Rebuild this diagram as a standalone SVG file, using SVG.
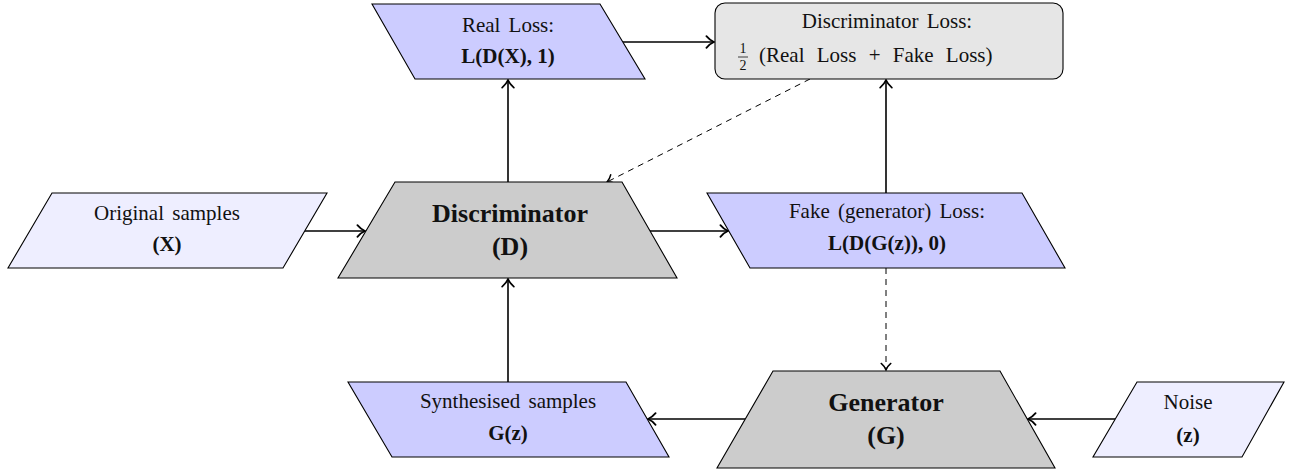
<svg xmlns="http://www.w3.org/2000/svg" width="1300" height="473" viewBox="0 0 1300 473">
<defs>
<style>
.node{stroke:#000;stroke-width:1.1}
.blue{fill:#ccccff}
.light{fill:#eeeeff}
.gray{fill:#cccccc}
.box{fill:#e6e6e6}
text{font-family:"Liberation Serif","Times New Roman",serif;fill:#111;text-anchor:middle}
.t{font-size:21px;word-spacing:3px}
.b{font-size:21px;font-weight:bold}
.big{font-size:26px;font-weight:bold}
.fr{font-size:14px}
.edge{fill:none;stroke:#000;stroke-width:1.6;marker-end:url(#arr)}
.dash{fill:none;stroke:#000;stroke-width:1;stroke-dasharray:6 5;marker-end:url(#arrs)}
</style>
<marker id="arr" markerUnits="userSpaceOnUse" markerWidth="14" markerHeight="14" viewBox="-8 -6 10 12" refX="0" refY="0" orient="auto">
<path d="M-6.5,-5 C-4,-2 -1.5,-0.6 0,0 C-1.5,0.6 -4,2 -6.5,5" fill="none" stroke="#000" stroke-width="1.5" stroke-linecap="round"/>
</marker>
<marker id="arrs" markerUnits="userSpaceOnUse" markerWidth="12" markerHeight="12" viewBox="-7 -5 8 10" refX="0" refY="0" orient="auto">
<path d="M-5.5,-4 C-3.5,-1.6 -1.3,-0.5 0,0 C-1.3,0.5 -3.5,1.6 -5.5,4" fill="none" stroke="#000" stroke-width="1.2" stroke-linecap="round"/>
</marker>
</defs>

<g id="connectors">
<line class="edge" x1="305" y1="231" x2="365" y2="231"/>
<line class="edge" x1="508" y1="182" x2="508" y2="80"/>
<line class="edge" x1="623" y1="42" x2="714" y2="42"/>
<line class="dash" x1="810" y1="79" x2="607" y2="182"/>
<line class="edge" x1="650" y1="231" x2="728" y2="231"/>
<line class="edge" x1="886" y1="193" x2="886" y2="80"/>
<line class="dash" x1="886" y1="268" x2="886" y2="370"/>
<line class="edge" x1="508" y1="382" x2="508" y2="279"/>
<line class="edge" x1="745" y1="419" x2="648" y2="419"/>
<line class="edge" x1="1115" y1="419" x2="1028" y2="419"/>
</g>

<g id="real-loss">
<polygon class="node blue" points="372,4 600,4 645,79 415,79"/>
<text class="t" x="508" y="32">Real Loss:</text>
<text class="b" x="508" y="63">L(D(X), 1)</text>
</g>

<g id="discriminator-loss">
<rect class="node box" x="715" y="3" width="348" height="76" rx="10" ry="10"/>
<text class="t" x="887" y="28">Discriminator Loss:</text>
<text class="fr" x="743" y="53">1</text>
<line x1="738" y1="57" x2="748" y2="57" stroke="#111" stroke-width="0.8"/>
<text class="fr" x="743" y="70">2</text>
<text class="t" x="759" y="62" style="text-anchor:start;word-spacing:7px">(Real Loss + Fake Loss)</text>
</g>

<g id="original-samples">
<polygon class="node light" points="52,193 327,193 283,268 8,268"/>
<text class="t" x="167" y="220">Original samples</text>
<text class="b" x="167" y="251">(X)</text>
</g>

<g id="discriminator">
<polygon class="node gray" points="395,182 622,182 677,278 338,278"/>
<text class="big" x="510" y="222">Discriminator</text>
<text class="big" x="510" y="255">(D)</text>
</g>

<g id="fake-loss">
<polygon class="node blue" points="707,193 1022,193 1065,268 750,268"/>
<text class="t" x="887" y="218">Fake (generator) Loss:</text>
<text class="b" x="887" y="250">L(D(G(z)), 0)</text>
</g>

<g id="synthesised-samples">
<polygon class="node blue" points="348,382 626,382 669,457 392,457"/>
<text class="t" x="508" y="408">Synthesised samples</text>
<text class="b" x="508" y="440">G(z)</text>
</g>

<g id="generator">
<polygon class="node gray" points="773,371 1000,371 1055,468 717,468"/>
<text class="big" x="886" y="411">Generator</text>
<text class="big" x="886" y="444">(G)</text>
</g>

<g id="noise">
<polygon class="node light" points="1137,382 1284,382 1242,457 1093,457"/>
<text class="t" x="1188" y="409">Noise</text>
<text class="b" x="1188" y="442">(z)</text>
</g>
</svg>
